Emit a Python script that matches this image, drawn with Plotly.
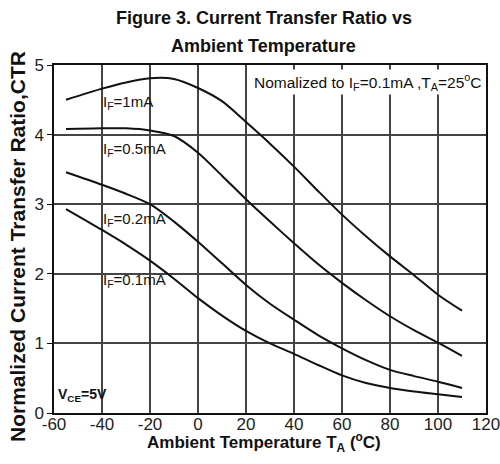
import plotly.graph_objects as go

temps = [-55, -40, -30, -20, -10, 0, 10, 20, 30, 40, 50, 60, 70, 80, 90, 100, 110]
ctr_1mA = [4.50, 4.66, 4.75, 4.81, 4.80, 4.67, 4.48, 4.18, 3.87, 3.54, 3.19, 2.85, 2.54, 2.25, 1.98, 1.70, 1.47]
ctr_05mA = [4.08, 4.09, 4.09, 4.06, 3.98, 3.74, 3.41, 3.07, 2.75, 2.44, 2.14, 1.87, 1.62, 1.39, 1.19, 1.01, 0.82]
ctr_02mA = [3.46, 3.28, 3.15, 3.00, 2.75, 2.46, 2.15, 1.84, 1.57, 1.34, 1.12, 0.93, 0.76, 0.62, 0.53, 0.45, 0.36]
ctr_01mA = [2.93, 2.63, 2.42, 2.19, 1.93, 1.65, 1.40, 1.18, 1.00, 0.85, 0.69, 0.54, 0.43, 0.36, 0.31, 0.27, 0.23]

series = [("I_F=1mA", ctr_1mA), ("I_F=0.5mA", ctr_05mA),
          ("I_F=0.2mA", ctr_02mA), ("I_F=0.1mA", ctr_01mA)]

label_names = ["I<sub>F</sub>=1mA", "I<sub>F</sub>=0.5mA", "I<sub>F</sub>=0.2mA", "I<sub>F</sub>=0.1mA"]
label_y = [4.46, 3.78, 2.78, 1.91]
label_x = -40.5

x_ticks = [-60, -40, -20, 0, 20, 40, 60, 80, 100, 120]
y_ticks = [0, 1, 2, 3, 4, 5]

NARROW = "Liberation Sans Narrow, Arial Narrow, Liberation Sans, Arial, sans-serif"
SANS = "Liberation Sans, Arial, sans-serif"

fig = go.Figure()
for name, vals in series:
    fig.add_trace(go.Scatter(x=temps, y=vals, mode="lines", name=name,
                             line=dict(color="#111111", width=2, shape="spline", smoothing=0.8),
                             showlegend=False))

annotations = []
for txt, yy in zip(label_names, label_y):
    annotations.append(dict(x=label_x, y=yy, xref="x", yref="y", text=txt, showarrow=False,
                            xanchor="left", yanchor="middle",
                            font=dict(family=NARROW, size=15, color="#111111")))
annotations.append(dict(x=119, y=4.76, xref="x", yref="y",
                        text="Nomalized to I<sub>F</sub>=0.1mA ,T<sub>A</sub>=25<sup>o</sup>C",
                        showarrow=False, xanchor="right", yanchor="middle", bgcolor="white",
                        font=dict(family=NARROW, size=15.5, color="#111111")))
annotations.append(dict(x=-59, y=0.26, xref="x", yref="y", text="<b>V<sub>CE</sub>=5V</b>",
                        showarrow=False, xanchor="left", yanchor="middle",
                        font=dict(family=NARROW, size=14, color="#111111")))
annotations.append(dict(x=0.486, y=1.135, xref="paper", yref="paper",
                        text="<b>Figure 3. Current Transfer Ratio vs</b>", showarrow=False,
                        xanchor="center", yanchor="middle",
                        font=dict(family=NARROW, size=18, color="#111111")))
annotations.append(dict(x=0.486, y=1.055, xref="paper", yref="paper",
                        text="<b>Ambient Temperature</b>", showarrow=False,
                        xanchor="center", yanchor="middle",
                        font=dict(family=NARROW, size=18, color="#111111")))
annotations.append(dict(x=0.486, y=-0.085, xref="paper", yref="paper",
                        text="<b>Ambient Temperature T<sub>A</sub> (<sup>o</sup>C)</b>", showarrow=False,
                        xanchor="center", yanchor="middle",
                        font=dict(family=SANS, size=17, color="#111111")))
annotations.append(dict(x=-0.0856, y=0.477, xref="paper", yref="paper",
                        text="<b>Normalized Current Transfer Ratio,CTR</b>", showarrow=False,
                        textangle=-90, xanchor="center", yanchor="middle",
                        font=dict(family=SANS, size=21, color="#111111")))

fig.update_layout(
    width=500, height=464,
    margin=dict(l=54, r=14, t=65, b=51, autoexpand=False),
    paper_bgcolor="white", plot_bgcolor="white",
    annotations=annotations,
    xaxis=dict(range=[-60, 120], tickvals=x_ticks, ticktext=[str(v) for v in x_ticks],
               showgrid=True, gridcolor="#444444", gridwidth=1.5,
               showline=True, linecolor="#111111", linewidth=1.5, mirror=True,
               zeroline=False, ticks="", ticklen=0, ticklabelstandoff=-5,
               ticklabeloverflow="allow", automargin=False,
               tickfont=dict(family=SANS, size=17, color="#222222")),
    yaxis=dict(range=[0, 5], tickvals=y_ticks, ticktext=[str(v) for v in y_ticks],
               showgrid=True, gridcolor="#444444", gridwidth=1.5,
               showline=True, linecolor="#111111", linewidth=1.5, mirror=True,
               zeroline=False, ticks="outside", ticklen=5, tickcolor="#111111",
               automargin=False,
               tickfont=dict(family=SANS, size=17, color="#222222")),
)

fig.write_html("out.html")
